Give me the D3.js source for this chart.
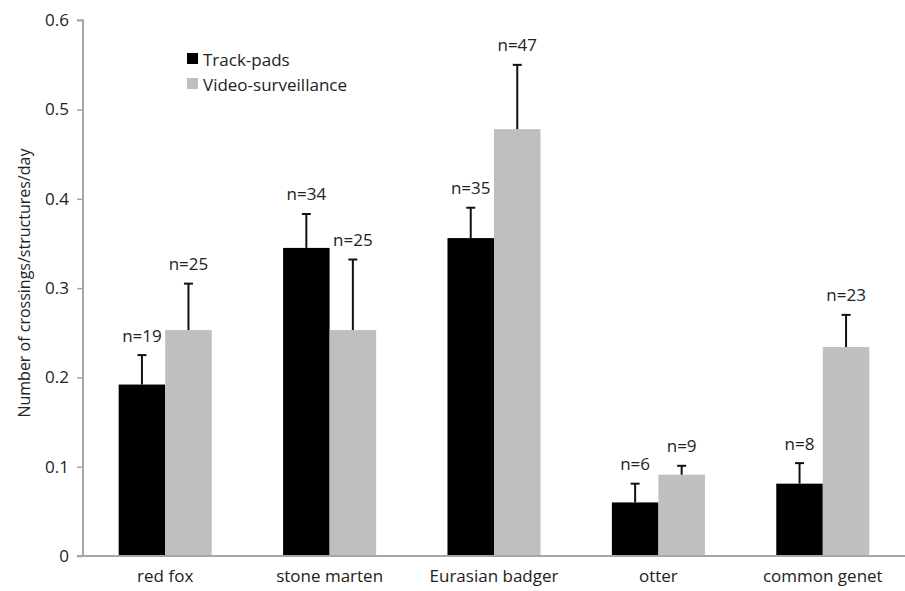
<!DOCTYPE html>
<html>
<head>
<meta charset="utf-8">
<script src="https://cdn.jsdelivr.net/npm/d3@7"></script>
<style>
  html, body { margin: 0; padding: 0; background: #fff; }
  svg text { font-family: "Open Sans", "DejaVu Sans", sans-serif; fill: #222; }
</style>
</head>
<body>
<svg id="chart" width="905" height="591"></svg>
<script>
const categories = ["red fox", "stone marten", "Eurasian badger", "otter", "common genet"];
const seriesNames = ["Track-pads", "Video-surveillance"];
const trackPads = [0.192, 0.345, 0.356, 0.060, 0.081];
const trackPadsUpper = [0.225, 0.383, 0.390, 0.081, 0.104];
const trackPadsN = [19, 34, 35, 6, 8];
const video = [0.253, 0.253, 0.478, 0.091, 0.234];
const videoUpper = [0.305, 0.332, 0.550, 0.101, 0.270];
const videoN = [25, 25, 47, 9, 23];
const yTicks = [0, 0.1, 0.2, 0.3, 0.4, 0.5, 0.6];
const yTickLabels = ["0", "0.1", "0.2", "0.3", "0.4", "0.5", "0.6"];
const yTitle = "Number of crossings/structures/day";

(function () {
const colors = ["#000000", "#bfbfbf"];
const svg = d3.select("#chart");
const mLeft = 83, mRight = 905, mTop = 20.2, mBottom = 556;

const x = d3.scaleBand().domain(categories).range([mLeft, mRight]).paddingInner(0.434).paddingOuter(0.217);
const xs = d3.scaleBand().domain(seriesNames).range([0, x.bandwidth()]);
const y = d3.scaleLinear().domain([0, 0.6]).range([mBottom, mTop]);

const rows = categories.map((c, i) => [
  { cat: c, s: seriesNames[0], v: trackPads[i], u: trackPadsUpper[i], n: trackPadsN[i] },
  { cat: c, s: seriesNames[1], v: video[i], u: videoUpper[i], n: videoN[i] }
]).flat();

// bars
svg.append("g").selectAll("rect").data(rows).join("rect")
  .attr("x", d => x(d.cat) + xs(d.s))
  .attr("y", d => y(d.v))
  .attr("width", xs.bandwidth())
  .attr("height", d => y(0) - y(d.v))
  .attr("fill", d => colors[seriesNames.indexOf(d.s)]);

// error bars
const eb = svg.append("g").attr("stroke", "#111").attr("stroke-width", 2);
rows.forEach(d => {
  const cx = x(d.cat) + xs(d.s) + xs.bandwidth() / 2;
  eb.append("line").attr("x1", cx).attr("x2", cx).attr("y1", y(d.v)).attr("y2", y(d.u));
  eb.append("line").attr("x1", cx - 4.5).attr("x2", cx + 4.5).attr("y1", y(d.u)).attr("y2", y(d.u));
});

// n labels
svg.append("g").selectAll("text").data(rows).join("text")
  .attr("x", d => x(d.cat) + xs(d.s) + xs.bandwidth() / 2)
  .attr("y", d => y(d.u) - 20)
  .attr("text-anchor", "middle")
  .attr("dominant-baseline", "central")
  .attr("font-size", 17)
  .text(d => "n=" + d.n);

// y axis
const yAxis = d3.axisLeft(y).tickValues(yTicks).tickFormat((d, i) => yTickLabels[i]).tickSize(6).tickPadding(8);
const gy = svg.append("g").attr("transform", `translate(${mLeft},0)`).call(yAxis);
gy.select(".domain").attr("stroke", "#a6a6a6").attr("stroke-width", 2).attr("d", `M-6,${mTop}H0V${mBottom}`);
gy.selectAll(".tick line").attr("stroke", "#a6a6a6").attr("stroke-width", 1.5);
gy.selectAll(".tick text").attr("font-size", 17).attr("font-family", "Open Sans").attr("fill", "#222");

// x axis
const xAxis = d3.axisBottom(x).tickSize(0).tickPadding(14);
const gx = svg.append("g").attr("transform", `translate(0,${mBottom})`).call(xAxis);
gx.select(".domain").attr("stroke", "#a6a6a6").attr("stroke-width", 2).attr("d", `M${mLeft - 6},0H${mRight}`);
gx.selectAll(".tick text").attr("font-size", 17).attr("font-family", "Open Sans").attr("fill", "#222");

// y title
svg.append("text")
  .attr("transform", `translate(24,${(mTop + mBottom) / 2 - 5}) rotate(-90)`)
  .attr("text-anchor", "middle")
  .attr("dominant-baseline", "central")
  .attr("font-size", 16)
  .text(yTitle);

// legend
const lg = svg.append("g").attr("transform", "translate(187,53)");
seriesNames.forEach((s, i) => {
  const g = lg.append("g").attr("transform", `translate(0,${i * 25})`);
  g.append("rect").attr("width", 11).attr("height", 11).attr("fill", colors[i]);
  g.append("text").attr("x", 16).attr("y", 6).attr("dominant-baseline", "central").attr("font-size", 17).text(s);
});
})();
</script>
</body>
</html>
